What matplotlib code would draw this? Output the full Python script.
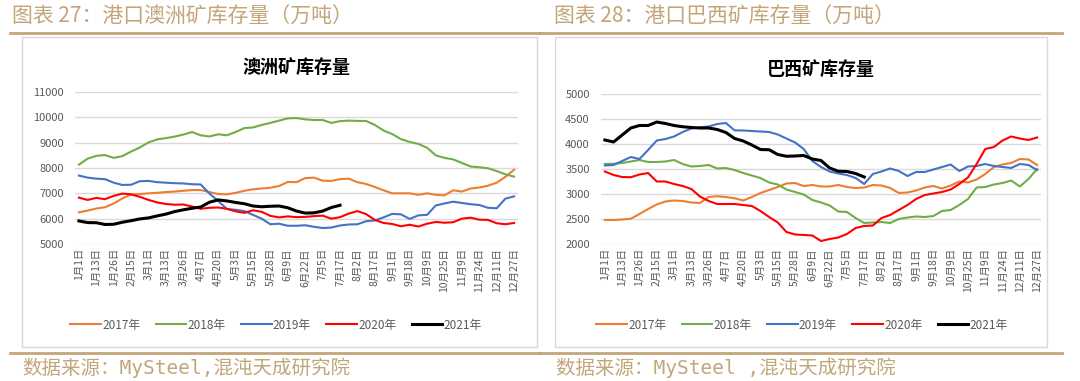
import numpy as np
import matplotlib
matplotlib.use("Agg")
import matplotlib.pyplot as plt
from matplotlib.patches import Rectangle
from matplotlib.lines import Line2D

plt.rcParams['font.family'] = ['Noto Sans CJK SC', 'DejaVu Sans']

# x categories (labels shown every second point)
tick_labels = ["1月1日", "1月13日", "1月26日", "2月15日", "3月1日", "3月13日", "3月26日",
               "4月7日", "4月20日", "5月3日", "5月15日", "5月28日", "6月9日", "6月22日",
               "7月5日", "7月17日", "8月2日", "8月17日", "9月1日", "9月18日", "10月9日",
               "10月25日", "11月9日", "11月24日", "12月11日", "12月27日"]
years = ["2017年", "2018年", "2019年", "2020年", "2021年"]

# Australian ore port inventory (10k t)
au_2017 = [6250, 6320, 6400, 6450, 6600, 6800, 6950, 6970, 7000, 7020,
           7050, 7070, 7100, 7130, 7130, 7050, 6970, 6960, 7020, 7100,
           7160, 7190, 7220, 7290, 7450, 7440, 7600, 7620, 7500, 7490,
           7560, 7580, 7440, 7370, 7250, 7120, 7000, 7000, 7000, 6940,
           7000, 6940, 6920, 7120, 7070, 7190, 7230, 7300, 7420, 7650, 7930]
au_2018 = [8130, 8370, 8480, 8510, 8400, 8470, 8650, 8810, 9010, 9130,
           9180, 9240, 9320, 9420, 9290, 9245, 9330, 9290, 9420, 9575,
           9600, 9700, 9780, 9870, 9960, 9970, 9920, 9895, 9895, 9780,
           9850, 9870, 9860, 9855, 9700, 9480, 9340, 9140, 9030, 8950,
           8800, 8500, 8400, 8340, 8200, 8060, 8030, 7990, 7880, 7750, 7660]
au_2019 = [7700, 7620, 7580, 7560, 7420, 7330, 7340, 7480, 7490, 7440,
           7420, 7400, 7390, 7360, 7350, 6990, 6700, 6380, 6350, 6300,
           6150, 6000, 5780, 5800, 5720, 5720, 5740, 5680, 5630, 5650,
           5730, 5770, 5780, 5900, 5930, 6050, 6190, 6170, 5990, 6130,
           6150, 6520, 6600, 6670, 6620, 6570, 6540, 6430, 6410, 6790, 6880]
au_2020 = [6830, 6740, 6820, 6770, 6900, 6990, 6960, 6860, 6740, 6640,
           6580, 6550, 6560, 6480, 6390, 6430, 6440, 6390, 6290, 6230,
           6330, 6270, 6110, 6050, 6090, 6060, 6070, 6100, 6120, 6000,
           6060, 6200, 6300, 6180, 5950, 5830, 5790, 5700, 5760, 5690,
           5800, 5870, 5840, 5860, 6000, 6040, 5960, 5950, 5820, 5780, 5830]
au_2021 = [5910, 5845, 5840, 5770, 5780, 5860, 5920, 5990, 6030, 6110,
           6180, 6280, 6350, 6410, 6460, 6650, 6740, 6700, 6640, 6590,
           6500, 6470, 6490, 6500, 6430, 6300, 6220, 6230, 6300, 6440, 6530]

# Brazilian ore port inventory (10k t)
br_2017 = [2480, 2480, 2490, 2505, 2600, 2700, 2790, 2850, 2870, 2860,
           2830, 2820, 2940, 2955, 2940, 2915, 2870, 2940, 3020, 3080,
           3140, 3210, 3220, 3160, 3180, 3150, 3150, 3180, 3140, 3120,
           3130, 3180, 3170, 3120, 3020, 3030, 3070, 3130, 3160, 3110,
           3170, 3250, 3230, 3290, 3400, 3540, 3590, 3620, 3700, 3690, 3580]
br_2018 = [3600, 3605, 3620, 3650, 3680, 3640, 3640, 3650, 3680, 3600,
           3550, 3560, 3580, 3510, 3520, 3480, 3420, 3370, 3320, 3230,
           3190, 3090, 3040, 2990, 2880, 2830, 2770, 2650, 2640, 2520,
           2420, 2430, 2440, 2420, 2500, 2530, 2550, 2540, 2560, 2660,
           2680, 2780, 2900, 3130, 3140, 3190, 3220, 3270, 3150, 3300, 3500]
br_2019 = [3570, 3580, 3660, 3740, 3700, 3880, 4070, 4100, 4150, 4240,
           4310, 4335, 4350, 4400, 4420, 4273, 4270, 4260, 4250, 4240,
           4190, 4110, 4030, 3900, 3660, 3540, 3450, 3410, 3380, 3320,
           3200, 3400, 3450, 3510, 3460, 3360, 3440, 3440, 3490, 3540,
           3590, 3460, 3550, 3560, 3600, 3560, 3540, 3520, 3600, 3580, 3480]
br_2020 = [3450, 3380, 3340, 3335, 3390, 3420, 3250, 3250, 3200, 3160,
           3100, 2950, 2860, 2800, 2800, 2800, 2780, 2760, 2660, 2540,
           2430, 2240, 2190, 2180, 2170, 2060, 2100, 2130, 2200, 2320,
           2360, 2370, 2520, 2580, 2680, 2780, 2900, 2980, 3010, 3040,
           3090, 3200, 3330, 3600, 3900, 3940, 4070, 4150, 4110, 4080, 4130]
br_2021 = [4080, 4040, 4180, 4320, 4370, 4370, 4440, 4410, 4370, 4345,
           4330, 4320, 4320, 4290, 4230, 4110, 4060, 3980, 3890, 3885,
           3790, 3755, 3760, 3770, 3700, 3670, 3520, 3455, 3450, 3410, 3340]

COLORS = ["#ED7D31", "#70AD47", "#4472C4", "#FF0000", "#000000"]
WIDTHS = [1.5, 1.5, 1.5, 1.5, 2.2]
TAN = "#C3A57A"
W, H = 1080, 381


def fx(px):
    return px / W


def fy(py):
    return 1 - py / H


def panel(fig, rect, series, ylim, ystep, title):
    ax = fig.add_axes(rect)
    for vals, c, lw, lab in zip(series, COLORS, WIDTHS, years):
        ax.plot(np.arange(len(vals)), vals, color=c, lw=lw, label=lab,
                solid_joinstyle="round", zorder=3)
    ax.set_xlim(-0.45, 50.45)
    ax.set_ylim(*ylim)
    ax.set_yticks(np.arange(ylim[0], ylim[1] + 1, ystep))
    ax.set_xticks(np.arange(0, 51, 2))
    ax.set_xticklabels(tick_labels, rotation=90, fontsize=7.5, color="#595959")
    ax.tick_params(axis="y", labelsize=8, colors="#595959", length=0, pad=8)
    ax.tick_params(axis="x", length=0, pad=3)
    ax.yaxis.grid(True, color="#D9D9D9", lw=1.0)
    ax.set_axisbelow(True)
    for s in ax.spines.values():
        s.set_visible(False)
    ax.set_title(title, fontsize=13, fontweight="bold", pad=14)
    return ax


fig = plt.figure(figsize=(W / 100, H / 100), dpi=100)

# outer boxes
for x0, x1 in [(22, 537), (555, 1047)]:
    fig.patches.append(Rectangle((fx(x0), fy(347)), fx(x1 - x0), 310 / H,
                                 transform=fig.transFigure, fill=False,
                                 edgecolor="#D9D9D9", lw=1.0))

# header / footer rules
for x0, x1 in [(10, 540), (540, 1062)]:
    for y in (33, 353):
        fig.lines.append(Line2D([fx(x0), fx(x1)], [fy(y), fy(y)],
                                transform=fig.transFigure, color=TAN, lw=2))

fig.text(fx(12), fy(17), "图表 27：港口澳洲矿库存量（万吨）", fontsize=15,
         color=TAN, va="center")
fig.text(fx(554), fy(17), "图表 28：港口巴西矿库存量（万吨）", fontsize=15,
         color=TAN, va="center")
src_font = ["DejaVu Sans Mono", "Noto Sans CJK SC"]
fig.text(fx(22), fy(368), "数据来源：MySteel,混沌天成研究院", fontsize=14,
         color=TAN, va="center", family=src_font)
fig.text(fx(556), fy(368), "数据来源：MySteel ,混沌天成研究院", fontsize=14,
         color=TAN, va="center", family=src_font)

ax1 = panel(fig, [fx(75), fy(244), fx(443), (244 - 92) / H],
            [au_2017, au_2018, au_2019, au_2020, au_2021],
            (5000, 11000), 1000, "澳洲矿库存量")
ax2 = panel(fig, [fx(601), fy(244), fx(440), (244 - 94) / H],
            [br_2017, br_2018, br_2019, br_2020, br_2021],
            (2000, 5000), 500, "巴西矿库存量")

for ax, cx in [(ax1, 276), (ax2, 802)]:
    h, l = ax.get_legend_handles_labels()
    fig.legend(h, l, loc="center", bbox_to_anchor=(fx(cx), fy(325)), ncol=5,
               frameon=False, fontsize=8.5, handlelength=2.6,
               handletextpad=0.1, columnspacing=1.3, labelcolor="#595959")

fig.savefig("out.png", dpi=100)
